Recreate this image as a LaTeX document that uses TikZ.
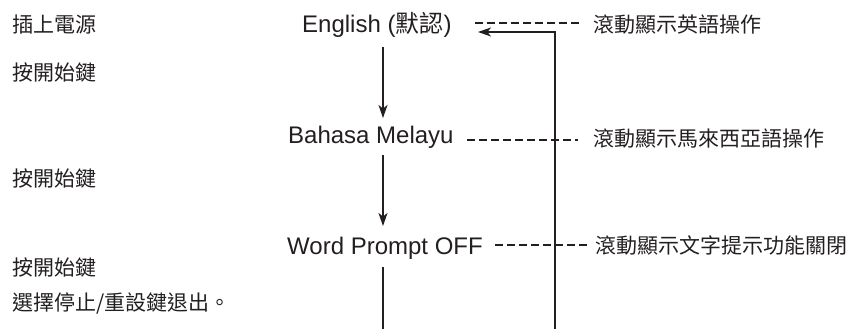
\documentclass[tikz,border=0pt]{standalone}
\usepackage{fontspec}
\setmainfont{Liberation Sans}
\newfontfamily\cjk{Noto Sans CJK TC}
\usetikzlibrary{arrows.meta}
\definecolor{ink}{HTML}{231F20}
\tikzset{
  latin/.style={inner sep=0pt, anchor=base west, text=ink, font=\fontsize{24}{28}\selectfont},
  cjklabel/.style={inner sep=0pt, anchor=base west, text=ink, font=\cjk\fontsize{21}{25}\selectfont},
  flow/.style={line width=1.2pt, draw=ink, -{Stealth[length=13pt,width=9pt,inset=3.5pt]}},
  plain/.style={line width=1.2pt, draw=ink},
  dashlink/.style={line width=2pt, draw=ink, dash pattern=on 8pt off 4pt},
}
\begin{document}
\begin{tikzpicture}[x=1pt,y=1pt]
\useasboundingbox (0,0) rectangle (850,-329);
% left column
\node[cjklabel] (s1) at (12,-33) {插上電源};
\node[cjklabel] (s2) at (12,-80) {按開始鍵};
\node[cjklabel] (s3) at (12,-186) {按開始鍵};
\node[cjklabel] (s4) at (12,-275) {按開始鍵};
\node[cjklabel] (s5) at (12,-310) {選擇停止/重設鍵退出。};
% middle column
\node[latin] (eng) at (302,-33) {English ({\cjk 默認})};
\node[latin] (bm) at (288,-143) {Bahasa Melayu};
\node[latin] (wp) at (287,-254) {Word Prompt OFF};
% right column
\node[cjklabel] (r1) at (593,-33) {滾動顯示英語操作};
\node[cjklabel] (r2) at (593,-146) {滾動顯示馬來西亞語操作};
\node[cjklabel] (r3) at (595,-253) {滾動顯示文字提示功能關閉};
% connector end points
\coordinate (a1s) at (383,-47);
\coordinate (a1e) at (383,-118);
\coordinate (a2s) at (383,-155);
\coordinate (a2e) at (383,-226);
\coordinate (a3s) at (383,-267);
\coordinate (a3e) at (383,-329);
\coordinate (fb0) at (555,-329);
\coordinate (fb1) at (555,-32);
\coordinate (fb2) at (478,-32);
\coordinate (d1s) at (475,-22.7);
\coordinate (d1e) at (579,-22.7);
\coordinate (d2s) at (467,-140);
\coordinate (d2e) at (578,-140);
\coordinate (d3s) at (495,-245);
\coordinate (d3e) at (590,-245);
% flow
\draw[flow] (a1s) -- (a1e);
\draw[flow] (a2s) -- (a2e);
\draw[plain] (a3s) -- (a3e);
\draw[flow] (fb0) -- (fb1) -- (fb2);
% dashed links
\draw[dashlink] (d1s) -- (d1e);
\draw[dashlink] (d2s) -- (d2e);
\draw[dashlink] (d3s) -- (d3e);
\end{tikzpicture}
\end{document}
